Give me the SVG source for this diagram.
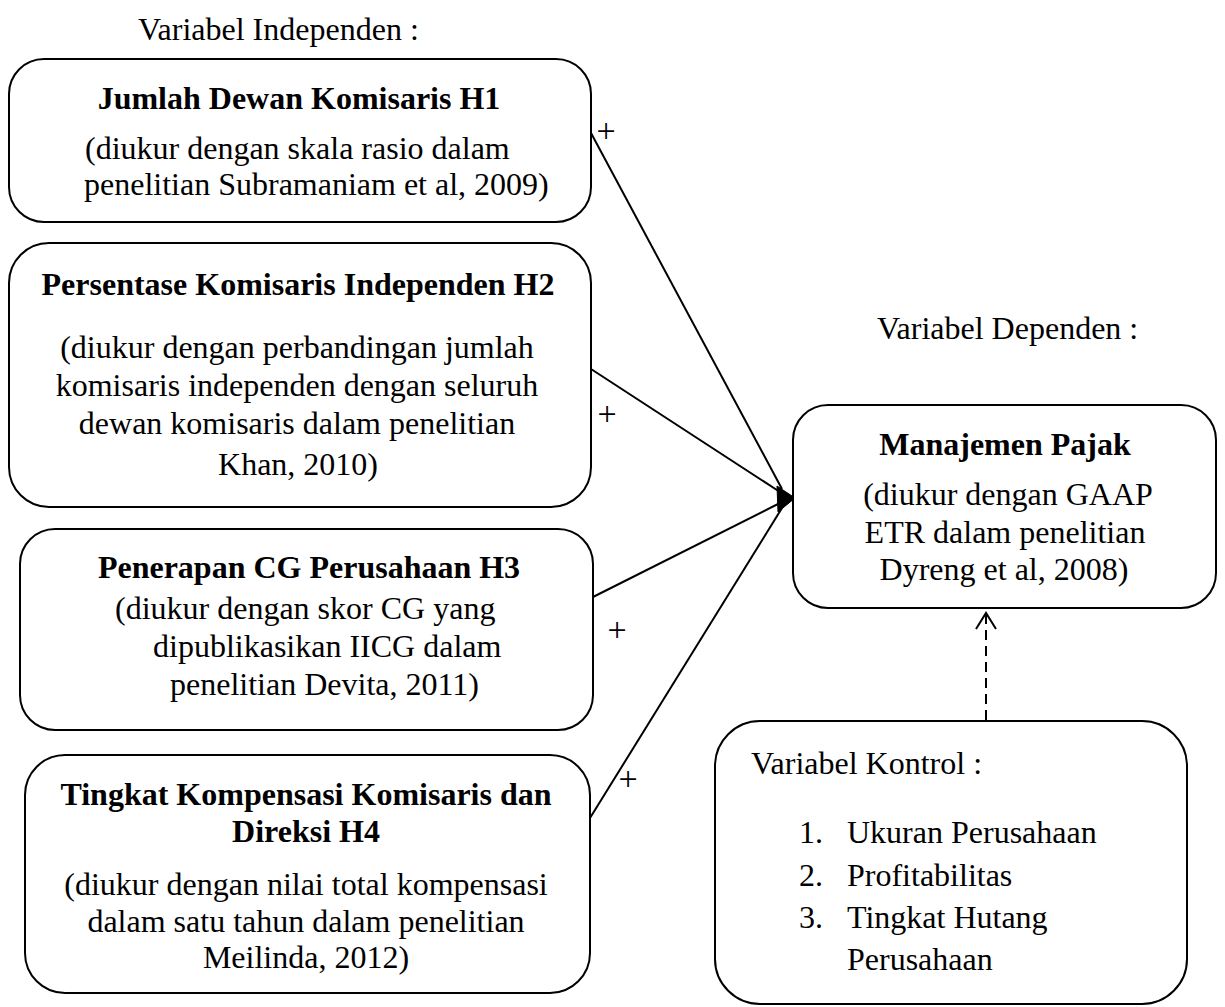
<svg xmlns="http://www.w3.org/2000/svg" width="1225" height="1007" viewBox="0 0 1225 1007">
<style>
text{font-family:"Liberation Serif","Times New Roman",serif;font-size:32px;fill:#000}
.b{font-weight:bold}
.c{text-anchor:middle}
.pl{font-size:34px}
.box{fill:#fff;stroke:#000;stroke-width:2}
.ln{fill:none;stroke:#000;stroke-width:2}
</style>
<rect width="1225" height="1007" fill="#fff"/>
<text x="138" y="40">Variabel Independen :</text>
<text x="877" y="339">Variabel Dependen :</text>

<g id="connectors">
<line class="ln" x1="591" y1="133" x2="782" y2="489"/>
<line class="ln" x1="591" y1="369" x2="780" y2="492"/>
<line class="ln" x1="593" y1="597" x2="780" y2="503"/>
<line class="ln" x1="590" y1="818" x2="782" y2="508"/>
<polygon points="777,486 795,498 778,512" fill="#000" stroke="#000" stroke-width="1" stroke-linejoin="round"/>
<line class="ln" x1="986" y1="720" x2="986" y2="614" stroke-dasharray="10,6"/>
<polyline class="ln" points="976,629 986,613 996,629"/>
<text class="c pl" x="606" y="142">+</text>
<text class="c pl" x="607" y="425">+</text>
<text class="c pl" x="617" y="641">+</text>
<text class="c pl" x="628" y="790">+</text>
</g>

<g id="h1">
<rect class="box" x="9" y="59" width="582" height="163" rx="35"/>
<text class="b c" x="299" y="109">Jumlah Dewan Komisaris H1</text>
<text x="85" y="159">(diukur dengan skala rasio dalam</text>
<text x="84" y="195">penelitian Subramaniam et al, 2009)</text>
</g>

<g id="h2">
<rect class="box" x="9" y="243" width="582" height="264" rx="40"/>
<text class="b c" x="298" y="295">Persentase Komisaris Independen H2</text>
<text class="c" x="297" y="358">(diukur dengan perbandingan jumlah</text>
<text class="c" x="297" y="396">komisaris independen dengan seluruh</text>
<text class="c" x="297" y="434">dewan komisaris dalam penelitian</text>
<text class="c" x="298" y="475">Khan, 2010)</text>
</g>

<g id="h3">
<rect class="box" x="20" y="529" width="573" height="201" rx="35"/>
<text class="b c" x="309" y="578">Penerapan CG Perusahaan H3</text>
<text x="115" y="619">(diukur dengan skor CG yang</text>
<text x="153" y="657">dipublikasikan IICG dalam</text>
<text x="170" y="695">penelitian Devita, 2011)</text>
</g>

<g id="h4">
<rect class="box" x="25" y="755" width="565" height="238" rx="40"/>
<text class="b c" x="306" y="805">Tingkat Kompensasi Komisaris dan</text>
<text class="b c" x="306" y="842">Direksi H4</text>
<text class="c" x="306" y="895">(diukur dengan nilai total kompensasi</text>
<text class="c" x="306" y="932">dalam satu tahun dalam penelitian</text>
<text class="c" x="306" y="968">Meilinda, 2012)</text>
</g>

<g id="dependen">
<rect class="box" x="793" y="405" width="423" height="203" rx="35"/>
<text class="b c" x="1005" y="455">Manajemen Pajak</text>
<text class="c" x="1008" y="505">(diukur dengan GAAP</text>
<text class="c" x="1005" y="543">ETR dalam penelitian</text>
<text class="c" x="1004" y="580">Dyreng et al, 2008)</text>
</g>

<g id="kontrol">
<rect class="box" x="715" y="721" width="472" height="283" rx="45"/>
<text x="751" y="774">Variabel Kontrol :</text>
<text x="799" y="843">1.</text>
<text x="847" y="843">Ukuran Perusahaan</text>
<text x="799" y="886">2.</text>
<text x="847" y="886">Profitabilitas</text>
<text x="799" y="928">3.</text>
<text x="847" y="928">Tingkat Hutang</text>
<text x="847" y="970">Perusahaan</text>
</g>
</svg>
